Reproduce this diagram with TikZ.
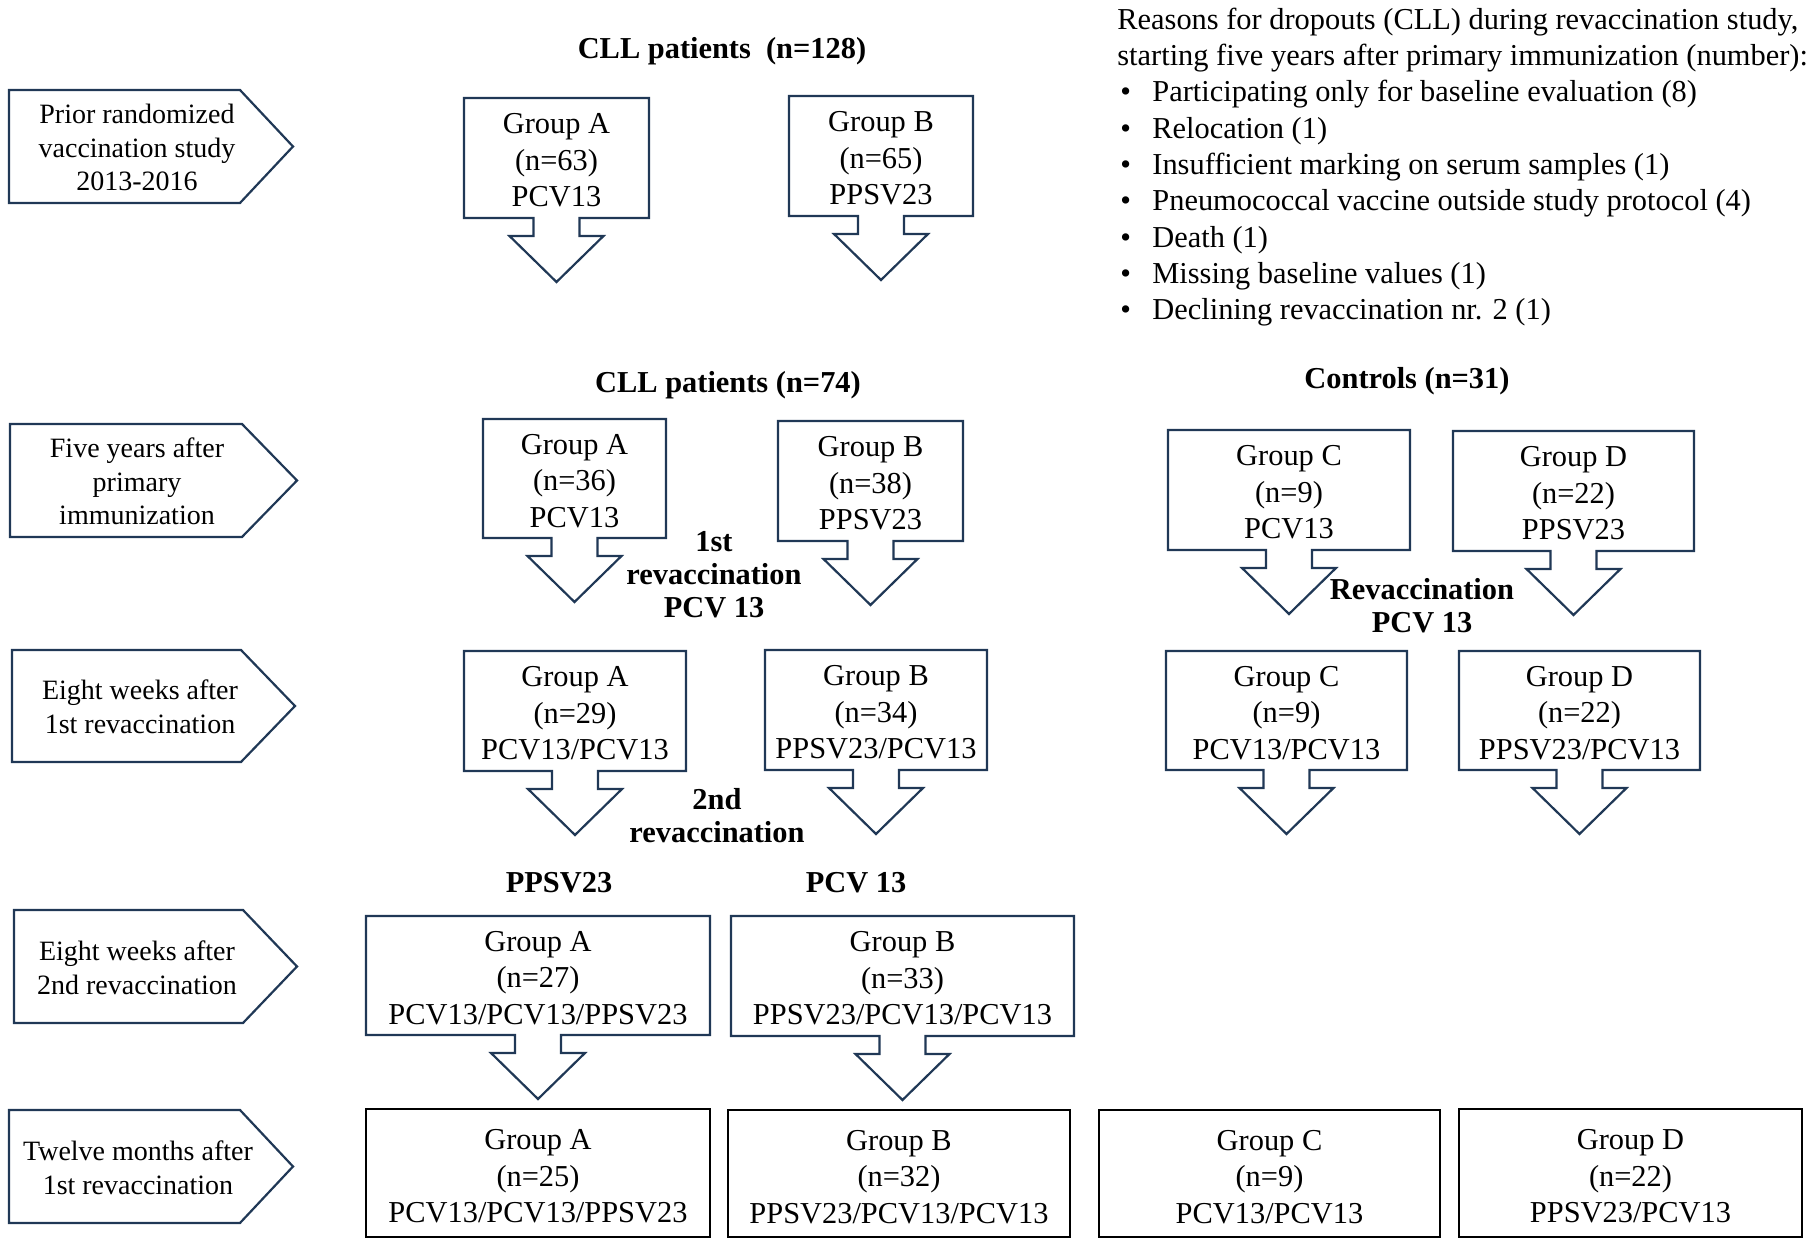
\documentclass[tikz,border=0pt]{standalone}
\usepackage{fontspec}
\setmainfont{Liberation Serif}
\usetikzlibrary{calc}
\definecolor{navy}{RGB}{32,56,86}
\tikzset{
 gline/.style={draw=navy, line width=1.1pt, line join=miter},
 fline/.style={draw=black, line width=1.4pt},
 gtext/.style={align=center, font=\fontsize{15.2pt}{18.2pt}\selectfont, inner sep=0pt},
 ltext/.style={align=center, font=\fontsize{14pt}{16.8pt}\selectfont, inner sep=0pt},
 btext/.style={align=center, font=\fontsize{15.2pt}{16.5pt}\selectfont\bfseries, inner sep=0pt},
 rtext/.style={anchor=base west, font=\fontsize{15.2pt}{18pt}\selectfont, inner sep=0pt},
}
% group box with attached down arrow: name, x1, y1, x2, y2, text
\newcommand\grpbox[6]{%
 \draw[gline] ({(#2+#4)/2-23},#5) -- (#2,#5) -- (#2,#3) -- (#4,#3) -- (#4,#5)
   -- ({(#2+#4)/2+23},#5) -- ({(#2+#4)/2+23},{#5+18}) -- ({(#2+#4)/2+47},{#5+18})
   -- ({(#2+#4)/2},{#5+64}) -- ({(#2+#4)/2-47},{#5+18}) -- ({(#2+#4)/2-23},{#5+18}) -- cycle;
 \node[gtext] (#1) at ({(#2+#4)/2},{(#3+#5)/2+2.5}) {#6};}
% final box: name, x1, y1, x2, y2, text
\newcommand\finbox[6]{%
 \draw[fline] (#2,#3) rectangle (#4,#5);
 \node[gtext] (#1) at ({(#2+#4)/2},{(#3+#5)/2+3.5}) {#6};}
% label pentagon: name, x1, y1, xr, tip, y2, textx, text
\newcommand\labbox[8]{%
 \draw[gline] (#2,#3) -- (#4,#3) -- (#5,{(#3+#6)/2}) -- (#4,#6) -- (#2,#6) -- cycle;
 \node[ltext] (#1) at (#7,{(#3+#6)/2+1}) {#8};}
\begin{document}
\begin{tikzpicture}[x=0.5pt,y=-0.5pt]
\useasboundingbox (0,0) rectangle (1817,1240);

% left labels
\labbox{lab1}{9}{90}{240}{293}{203}{137}{Prior randomized\\vaccination study\\2013-2016}
\labbox{lab2}{10}{424}{242}{297}{537}{137}{Five years after\\primary\\immunization}
\labbox{lab3}{12}{650}{241}{295}{762}{140}{Eight weeks after\\1st revaccination}
\labbox{lab4}{14}{910}{243}{297}{1023}{137}{Eight weeks after\\2nd revaccination}
\labbox{lab5}{9}{1110}{240}{293}{1223}{138}{Twelve months after\\1st revaccination}

% titles
\node[btext] (t1) at (722,51) {CLL patients\ \ (n=128)};
\node[btext] (t2) at (728,385) {CLL patients (n=74)};
\node[btext] (t3) at (1407,381) {Controls (n=31)};
\node[btext] (r1) at (714,575) {1st\\revaccination\\PCV 13};
\node[btext] (r2) at (1422,606) {Revaccination\\PCV 13};
\node[btext] (r3) at (717,816) {2nd\\revaccination};
\node[btext] (v1) at (559,883) {PPSV23};
\node[btext] (v2) at (856,883) {PCV 13};

% row 1
\grpbox{a1}{464}{98}{649}{218}{Group A\\(n=63)\\PCV13}
\grpbox{b1}{789}{96}{973}{216}{Group B\\(n=65)\\PPSV23}
% row 2
\grpbox{a2}{483}{419}{666}{538}{Group A\\(n=36)\\PCV13}
\grpbox{b2}{778}{421}{963}{541}{Group B\\(n=38)\\PPSV23}
\grpbox{c2}{1168}{430}{1410}{550}{Group C\\(n=9)\\PCV13}
\grpbox{d2}{1453}{431}{1694}{551}{Group D\\(n=22)\\PPSV23}
% row 3
\grpbox{a3}{464}{651}{686}{771}{Group A\\(n=29)\\PCV13/PCV13}
\grpbox{b3}{765}{650}{987}{770}{Group B\\(n=34)\\PPSV23/PCV13}
\grpbox{c3}{1166}{651}{1407}{770}{Group C\\(n=9)\\PCV13/PCV13}
\grpbox{d3}{1459}{651}{1700}{770}{Group D\\(n=22)\\PPSV23/PCV13}
% row 4
\grpbox{a4}{366}{916}{710}{1035}{Group A\\(n=27)\\PCV13/PCV13/PPSV23}
\grpbox{b4}{731}{916}{1074}{1036}{Group B\\(n=33)\\PPSV23/PCV13/PCV13}
% row 5
\finbox{a5}{366}{1109}{710}{1237}{Group A\\(n=25)\\PCV13/PCV13/PPSV23}
\finbox{b5}{728}{1110}{1070}{1237}{Group B\\(n=32)\\PPSV23/PCV13/PCV13}
\finbox{c5}{1099}{1110}{1440}{1237}{Group C\\(n=9)\\PCV13/PCV13}
\finbox{d5}{1459}{1109}{1802}{1237}{Group D\\(n=22)\\PPSV23/PCV13}

% reasons
\node[rtext] (h1) at (1117,29.3) {Reasons for dropouts (CLL) during revaccination study,};
\node[rtext] (h2) at (1117,65.6) {starting five years after primary immunization (number):};
\foreach \t [count=\i] in {Participating only for baseline evaluation (8),Relocation (1),Insufficient marking on serum samples (1),Pneumococcal vaccine outside study protocol (4),Death (1),Missing baseline values (1),Declining revaccination nr. 2 (1)}{
  \node[rtext] (bul\i) at (1120,{65.6+36.3*\i}) {•};
  \node[rtext] (it\i) at (1152,{65.6+36.3*\i}) {\t};
}
\end{tikzpicture}
\end{document}
